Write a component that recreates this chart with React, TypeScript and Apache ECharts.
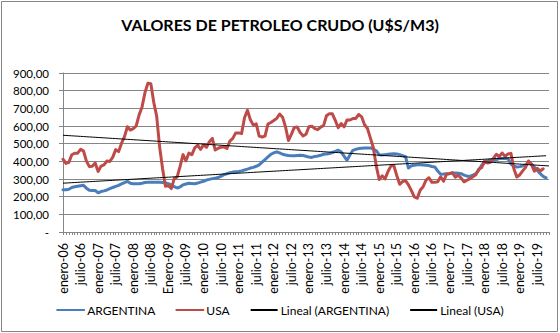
import React, { useEffect, useRef } from "react";
import * as echarts from "echarts";

const MONTHS = ["enero", "febrero", "marzo", "abril", "mayo", "junio", "julio", "agosto", "septiembre", "octubre", "noviembre", "diciembre"];
const YEARS = ["06", "07", "08", "09", "10", "11", "12", "13", "14", "15", "16", "17", "18", "19"];
const CATEGORY_COUNT = 167;

const argentina = [
  239, 239, 242, 252, 256, 259, 262, 264, 248, 236, 235, 235,
  222, 229, 233, 238, 245, 252, 258, 264, 272, 280, 287, 276,
  273, 273, 273, 276, 280, 281, 281, 281, 281, 281, 280, 278,
  274, 266, 257, 249, 255, 267, 272, 276, 275, 273, 277, 282,
  287, 294, 298, 302, 305, 308, 316, 325, 330, 336, 339, 341,
  342, 346, 351, 356, 362, 366, 372, 380, 395, 410, 425, 440,
  448, 454, 448, 440, 436, 433, 432, 431, 433, 435, 433, 429,
  424, 422, 428, 430, 434, 440, 442, 444, 450, 456, 463, 454,
  430, 406, 436, 462, 468, 472, 474, 475, 475, 476, 470, 460,
  437, 436, 438, 440, 442, 443, 442, 438, 432, 426, 362, 375,
  378, 380, 380, 379, 378, 376, 371, 368, 345, 327, 328, 330,
  331, 333, 334, 332, 330, 322, 316, 315, 322, 330, 349, 378,
  392, 404, 408, 406, 410, 416, 416, 416, 414, 385, 372, 368,
  370, 374, 380, 395, 385, 368, 348, 330, 315, 306,
];

const usa = [
  412, 388, 394, 437, 446, 446, 468, 459, 401, 370, 372, 390,
  343, 373, 380, 402, 399, 424, 466, 455, 503, 540, 596, 577,
  585, 600, 663, 708, 789, 842, 839, 734, 655, 482, 360, 259,
  262, 246, 302, 312, 371, 438, 403, 447, 437, 476, 491, 468,
  493, 480, 511, 530, 464, 474, 480, 482, 473, 515, 530, 561,
  561, 557, 647, 689, 635, 605, 612, 543, 538, 543, 611, 620,
  631, 643, 668, 650, 595, 518, 553, 592, 594, 563, 544, 553,
  596, 599, 585, 579, 594, 602, 658, 670, 669, 632, 590, 614,
  595, 634, 634, 642, 643, 665, 652, 607, 586, 531, 477, 373,
  297, 318, 301, 342, 373, 376, 320, 270, 286, 291, 267, 234,
  199, 191, 236, 256, 294, 307, 281, 281, 284, 313, 287, 327,
  330, 336, 310, 321, 305, 284, 293, 302, 313, 324, 356, 364,
  401, 391, 395, 417, 440, 427, 447, 428, 442, 445, 358, 311,
  323, 346, 366, 402, 383, 344, 361, 345, 358,
];

const categories = YEARS.flatMap((y) => MONTHS.map((m) => `${m}-${y}`)).slice(0, CATEGORY_COUNT);
categories[36] = "Enero-09";

function pad(arr: number[]): (number | null)[] {
  const out: (number | null)[] = arr.slice();
  while (out.length < CATEGORY_COUNT) out.push(null);
  return out;
}

function trend(arr: number[], lastIndex: number): (number | null)[] {
  const n = arr.length;
  let sx = 0, sy = 0, sxx = 0, sxy = 0;
  arr.forEach((v, i) => { sx += i; sy += v; sxx += i * i; sxy += i * v; });
  const b = (n * sxy - sx * sy) / (n * sxx - sx * sx);
  const a = (sy - b * sx) / n;
  const out: (number | null)[] = [];
  for (let i = 0; i < CATEGORY_COUNT; i++) out.push(i <= lastIndex ? a + b * i : null);
  return out;
}

const FONT = "Lato";

export default function App() {
  const ref = useRef<HTMLDivElement>(null);
  useEffect(() => {
    if (!ref.current) return;
    const chart = echarts.init(ref.current, undefined, { renderer: "svg" });
    chart.setOption({
      animation: false,
      backgroundColor: "#ffffff",
      textStyle: { fontFamily: FONT },
      title: {
        text: "VALORES DE PETROLEO CRUDO (U$S/M3)",
        left: "center",
        top: 11,
        textStyle: { fontFamily: FONT, fontSize: 16, fontWeight: "bold", color: "#000" },
      },
      graphic: [
        {
          type: "rect",
          shape: { x: 1.5, y: 1.5, width: 556, height: 330 },
          style: { fill: "none", stroke: "#868686", lineWidth: 1 },
          silent: true,
          z: -1,
        },
      ],
      legend: {
        bottom: 12,
        left: "center",
        itemWidth: 27,
        itemHeight: 10,
        itemGap: 20,
        itemStyle: { opacity: 0 },
        textStyle: { fontFamily: FONT, fontSize: 12, color: "#000", padding: [0, 0, 0, -2] },
        data: ["ARGENTINA", "USA", "Lineal (ARGENTINA)", "Lineal (USA)"],
      },
      grid: { left: 63, right: 11, top: 73, bottom: 101 },
      xAxis: {
        type: "category",
        data: categories,
        boundaryGap: false,
        axisLine: { lineStyle: { color: "#868686", width: 1 } },
        axisTick: { show: true, interval: 0, length: 3, lineStyle: { color: "#868686" } },
        axisLabel: {
          interval: 5,
          rotate: 90,
          margin: 11,
          fontFamily: FONT,
          fontSize: 12.5,
          color: "#000",
          padding: [7, 0, 0, 0],
        },
        splitLine: { show: false },
      },
      yAxis: {
        type: "value",
        min: 0,
        max: 900,
        interval: 100,
        axisLine: { show: true, lineStyle: { color: "#868686", width: 1 } },
        axisTick: { show: true, length: 4, lineStyle: { color: "#868686" } },
        axisLabel: {
          margin: 14,
          fontFamily: FONT,
          fontSize: 11.5,
          color: "#000",
          formatter: (v: number) => (v === 0 ? "-" : v.toFixed(2).replace(".", ",")),
        },
        splitLine: { lineStyle: { color: "#868686", width: 1 } },
      },
      series: [
        {
          name: "ARGENTINA",
          type: "line",
          data: pad(argentina),
          symbol: "none",
          lineStyle: { color: "#4A7EBB", width: 3, cap: "round", join: "round" },
          itemStyle: { color: "#4A7EBB" },
          z: 2,
        },
        {
          name: "USA",
          type: "line",
          data: pad(usa),
          symbol: "none",
          lineStyle: { color: "#BE4B48", width: 3, cap: "round", join: "round" },
          itemStyle: { color: "#BE4B48" },
          z: 3,
        },
        {
          name: "Lineal (ARGENTINA)",
          type: "line",
          data: trend(argentina, argentina.length - 1),
          symbol: "none",
          lineStyle: { color: "#000", width: 1 },
          itemStyle: { color: "#000" },
          z: 4,
        },
        {
          name: "Lineal (USA)",
          type: "line",
          data: trend(usa, CATEGORY_COUNT - 1),
          symbol: "none",
          lineStyle: { color: "#000", width: 1 },
          itemStyle: { color: "#000" },
          z: 4,
        },
      ],
    });
    return () => chart.dispose();
  }, []);
  return (
    <div style={{ position: "fixed", left: 0, top: 0, width: 560, height: 333 }}>
      <div ref={ref} style={{ width: 560, height: 333 }} />
    </div>
  );
}
